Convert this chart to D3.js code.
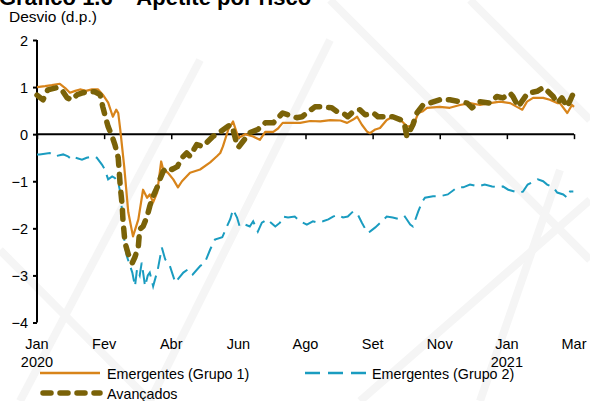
<!DOCTYPE html>
<html><head><meta charset="utf-8">
<script src="https://cdn.jsdelivr.net/npm/d3@7"></script>
<style>
html,body{margin:0;padding:0;background:#fff;}
svg{display:block;font-family:"Liberation Sans",Arial,sans-serif;}
</style></head>
<body><svg id="c" width="590" height="401"></svg>
<script>
// ---- data (x in axis-period units: 0 = Jan 2020 ... 8 = Mar 2021) ----
const tickLabels = ["Jan","Fev","Abr","Jun","Ago","Set","Nov","Jan","Mar"];
const yearLabels = ["2020","","","","","","","2021",""];
const yTicks = [2,1,0,-1,-2,-3,-4];

const emg1X = [0,0.12,0.22,0.34,0.42,0.49,0.57,0.64,0.73,0.82,0.91,0.98,1.06,1.13,1.18,1.21,1.24,1.30,1.36,1.43,1.51,1.58,1.64,1.68,1.73,1.79,1.85,1.88,1.95,2.03,2.10,2.16,2.28,2.43,2.58,2.68,2.73,2.77,2.85,2.92,3.00,3.10,3.22,3.32,3.40,3.52,3.59,3.66,3.77,3.92,4.07,4.22,4.37,4.52,4.62,4.71,4.77,4.84,4.92,4.96,5.04,5.11,5.21,5.30,5.41,5.51,5.60,5.68,5.74,5.81,6.00,6.15,6.30,6.45,6.60,6.75,6.90,7.05,7.15,7.23,7.30,7.39,7.54,7.64,7.75,7.79,7.90,7.97,8.00];
const emg1 = [1.00,1.02,1.04,1.07,0.98,0.88,0.92,0.95,0.92,0.95,0.95,0.84,0.67,0.37,0.52,0.45,0.10,-0.70,-1.66,-2.17,-1.81,-1.18,-1.35,-1.28,-1.45,-1.24,-0.58,-0.75,-0.82,-0.96,-1.13,-1.00,-0.82,-0.75,-0.60,-0.47,-0.40,-0.26,0.10,0.27,-0.08,0.00,-0.05,-0.12,0.05,0.05,0.12,0.24,0.24,0.24,0.28,0.27,0.30,0.29,0.24,0.31,0.37,0.20,0.05,0.02,0.10,0.13,0.30,0.37,0.31,0.17,0.16,0.45,0.48,0.56,0.58,0.56,0.62,0.66,0.62,0.66,0.69,0.66,0.58,0.52,0.69,0.77,0.77,0.73,0.66,0.66,0.45,0.62,0.58];

const emg2X = [0,0.04,0.19,0.27,0.39,0.46,0.52,0.57,0.67,0.74,0.83,0.89,0.97,1.01,1.06,1.12,1.16,1.21,1.25,1.28,1.31,1.34,1.42,1.46,1.49,1.53,1.56,1.61,1.65,1.68,1.73,1.80,1.86,1.91,1.98,2.06,2.10,2.18,2.25,2.32,2.43,2.50,2.58,2.65,2.76,2.83,2.88,2.92,2.98,3.02,3.10,3.17,3.22,3.29,3.35,3.43,3.55,3.62,3.66,3.74,3.84,3.92,4.02,4.11,4.19,4.26,4.34,4.41,4.48,4.56,4.63,4.71,4.78,4.84,4.92,4.96,5.04,5.14,5.21,5.30,5.41,5.48,5.56,5.60,5.68,5.74,5.78,5.90,6.00,6.12,6.26,6.35,6.45,6.57,6.67,6.78,6.87,6.94,7.02,7.17,7.24,7.31,7.46,7.54,7.60,7.69,7.75,7.84,7.90,7.94,7.99];
const emg2 = [-0.43,-0.43,-0.40,-0.47,-0.43,-0.47,-0.54,-0.50,-0.54,-0.50,-0.47,-0.50,-0.65,-0.75,-0.96,-0.90,-0.93,-1.03,-1.30,-1.96,-2.38,-2.60,-2.94,-3.23,-2.87,-3.00,-2.73,-3.23,-3.00,-2.94,-3.23,-2.87,-2.41,-2.66,-2.80,-3.15,-3.08,-2.94,-2.87,-2.98,-2.80,-2.73,-2.45,-2.24,-2.19,-1.96,-1.80,-1.60,-1.77,-1.96,-1.92,-1.96,-1.85,-2.07,-1.88,-1.81,-1.96,-1.88,-1.75,-1.77,-1.75,-1.85,-1.92,-1.85,-1.88,-1.85,-1.81,-1.75,-1.71,-1.77,-1.75,-1.64,-1.71,-1.88,-2.09,-2.07,-1.98,-1.85,-1.75,-1.77,-1.81,-1.75,-1.92,-1.96,-1.64,-1.43,-1.35,-1.32,-1.32,-1.28,-1.13,-1.13,-1.07,-1.11,-1.07,-1.11,-1.13,-1.11,-1.18,-1.24,-1.22,-1.07,-0.96,-1.00,-1.07,-1.13,-1.24,-1.28,-1.35,-1.22,-1.22];

const avX = [0,0.09,0.16,0.30,0.37,0.45,0.52,0.60,0.69,0.76,0.86,0.94,0.98,1.03,1.06,1.12,1.16,1.21,1.24,1.27,1.28,1.31,1.36,1.42,1.46,1.51,1.53,1.58,1.64,1.68,1.73,1.79,1.83,1.88,1.94,2.01,2.09,2.16,2.23,2.28,2.38,2.47,2.62,2.73,2.83,2.88,2.92,2.96,3.00,3.07,3.17,3.29,3.40,3.52,3.66,3.74,3.87,3.95,4.02,4.14,4.26,4.39,4.47,4.56,4.63,4.71,4.81,4.89,5.01,5.08,5.21,5.30,5.41,5.47,5.51,5.60,5.66,5.75,5.85,6.00,6.15,6.30,6.41,6.48,6.60,6.75,6.85,6.94,7.05,7.09,7.17,7.24,7.31,7.45,7.54,7.61,7.69,7.75,7.82,7.90,7.99];
const av = [0.83,0.73,0.94,0.99,0.94,0.77,0.73,0.84,0.88,0.90,0.90,0.84,0.58,0.31,0.16,-0.05,-0.22,-0.50,-1.10,-1.53,-1.81,-2.30,-2.55,-2.73,-2.61,-2.38,-2.02,-1.96,-1.75,-1.53,-1.32,-1.13,-0.96,-0.79,-0.71,-0.75,-0.69,-0.50,-0.40,-0.47,-0.22,-0.26,-0.05,0.05,0.15,0.20,0.10,-0.12,-0.28,-0.15,0.03,0.10,0.24,0.24,0.45,0.41,0.35,0.37,0.45,0.58,0.58,0.56,0.48,0.45,0.37,0.48,0.52,0.41,0.45,0.37,0.37,0.37,0.31,0.25,-0.05,0.20,0.45,0.62,0.66,0.73,0.73,0.69,0.66,0.56,0.69,0.66,0.80,0.77,0.87,0.80,0.58,0.73,0.87,0.91,0.99,0.91,0.80,0.66,0.77,0.58,0.87];

// ---- drawing ----
const svg = d3.select("#c");
const x = d3.scaleLinear().domain([0,8]).range([37,574]);
const y = d3.scaleLinear().domain([-4,2]).range([322.5,40]);

// very faint background pattern
const bg = svg.append("g").attr("stroke","#f5f5f5").attr("stroke-width",8).attr("fill","none");
[[20,401,200,60],[150,401,330,40],[330,0,590,260],[470,0,590,120],[0,250,150,401],[360,401,590,200],[480,401,560,170]].forEach(p=>{
  bg.append("line").attr("x1",p[0]).attr("y1",p[1]).attr("x2",p[2]).attr("y2",p[3]);
});

// title (cut at top) and unit label
svg.append("text").attr("x",-1).attr("y",4.5).attr("font-size",22).attr("font-weight","bold").attr("fill","#000")
  .text("Gráfico 1.6 – Apetite por risco");
svg.append("text").attr("x",9).attr("y",22).attr("font-size",15.5).attr("fill","#000").text("Desvio (d.p.)");

// y axis
const yAxis = d3.axisLeft(y).tickValues(yTicks).tickSize(4).tickFormat(d3.format("d"));
const ya = svg.append("g").attr("transform","translate(37,0)").call(yAxis);
ya.select(".domain").attr("stroke","#000").attr("stroke-width",2).attr("d",`M0,${y(2)}V${y(-4)}`);
ya.selectAll(".tick line").attr("stroke","#000").attr("stroke-width",2);
ya.selectAll(".tick text").attr("font-size",14.5).attr("fill","#000").attr("x",-9)
  .attr("font-family","Liberation Sans, Arial, sans-serif").attr("dy","0.36em");

// x axis at zero
const xAxis = d3.axisBottom(x).tickValues(d3.range(tickLabels.length)).tickSize(5).tickFormat("");
const xa = svg.append("g").attr("transform",`translate(0,${y(0)})`).call(xAxis);
xa.select(".domain").attr("stroke","#000").attr("stroke-width",2).attr("d",`M${x(0)},0H${x(8)}`);
xa.selectAll(".tick line").attr("stroke","#000").attr("stroke-width",1.5);

// x labels at bottom
const lab = svg.append("g").attr("font-size",14.5).attr("fill","#000").attr("text-anchor","middle");
tickLabels.forEach((t,i)=>{
  lab.append("text").attr("x",x(i)).attr("y",349).text(t);
  if(yearLabels[i]) lab.append("text").attr("x",x(i)).attr("y",367).text(yearLabels[i]);
});

// series
const line = d3.line().x(d=>x(d[0])).y(d=>y(d[1])).curve(d3.curveLinear);
const zip = (a,b)=>a.map((v,i)=>[v,b[i]]);
const cOr="#d8841a", cBl="#1a9cc0", cOl="#7a6208";

svg.append("path").datum(zip(emg2X,emg2)).attr("d",line).attr("fill","none")
  .attr("stroke",cBl).attr("stroke-width",2).attr("stroke-dasharray","14,7");
svg.append("path").datum(zip(emg1X,emg1)).attr("d",line).attr("fill","none")
  .attr("stroke",cOr).attr("stroke-width",2.2).attr("stroke-linejoin","round");
svg.append("path").datum(zip(avX,av)).attr("d",line).attr("fill","none")
  .attr("stroke",cOl).attr("stroke-width",5.5).attr("stroke-dasharray","9,9").attr("stroke-linecap","round").attr("stroke-linejoin","round");

// legend
const lg = svg.append("g").attr("font-size",14.3).attr("fill","#000");
lg.append("line").attr("x1",40).attr("x2",100).attr("y1",373).attr("y2",373).attr("stroke",cOr).attr("stroke-width",2.5);
lg.append("text").attr("x",107).attr("y",379).text("Emergentes (Grupo 1)");
lg.append("line").attr("x1",305).attr("x2",366).attr("y1",373).attr("y2",373).attr("stroke",cBl).attr("stroke-width",2.5).attr("stroke-dasharray","15,8");
lg.append("text").attr("x",372).attr("y",379).text("Emergentes (Grupo 2)");
lg.append("line").attr("x1",43).attr("x2",100).attr("y1",393).attr("y2",393).attr("stroke",cOl).attr("stroke-width",5.5).attr("stroke-dasharray","8,9").attr("stroke-linecap","round");
lg.append("text").attr("x",107).attr("y",399).text("Avançados");
</script></body></html>
